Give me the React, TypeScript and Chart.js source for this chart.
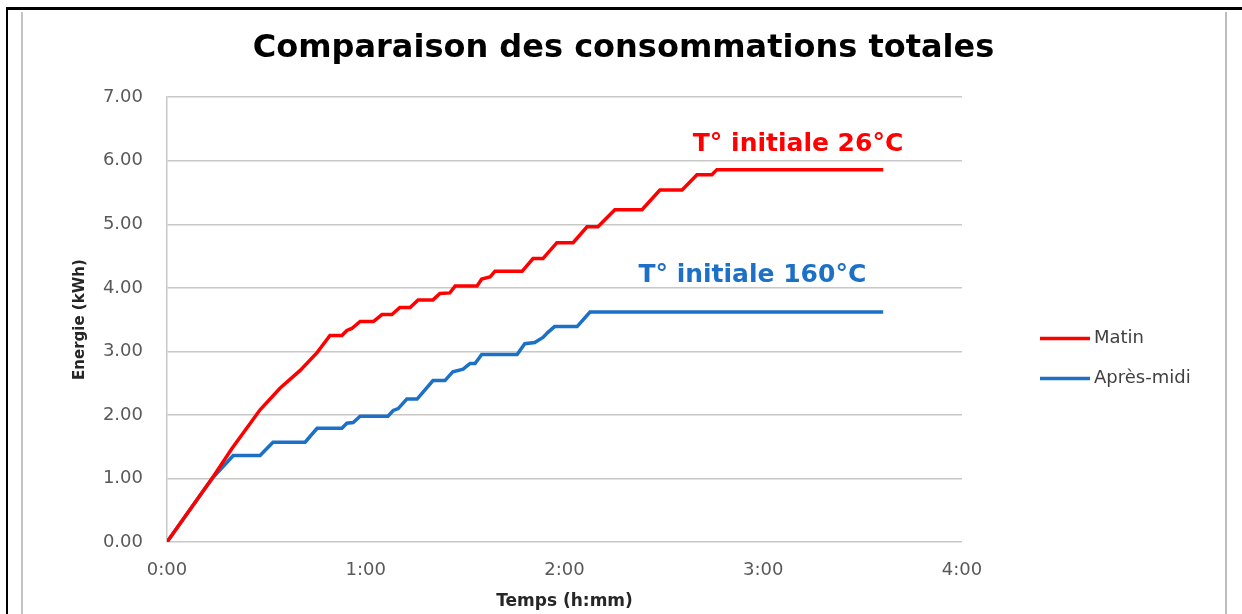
import React, { useEffect, useRef } from "react";
import { Chart, registerables } from "chart.js";

Chart.register(...registerables);

// ---- Data (time in minutes, energy in kWh) ----
const seriesNames = ["Matin", "Après-midi"];
const seriesColors = ["#FF0000", "#1C70C6"];

const matinMinutes = [0, 13.6, 19.6, 28.1, 34.1, 40.2, 45.3, 49.2, 52.8, 54.3, 55.8, 58.3, 62.3, 64.9, 67.9, 70.3, 73.4, 75.8, 80.3, 82.4, 85.4, 87, 93.6, 95, 97.5, 99, 107.2, 110.5, 113.5, 117.7, 122.6, 126.8, 130.1, 132.2, 135.2, 143.4, 148.8, 155.5, 160, 164.5, 166, 216.2];
const matinKWh = [0, 1.0, 1.47, 2.08, 2.42, 2.7, 2.98, 3.25, 3.25, 3.33, 3.36, 3.47, 3.47, 3.58, 3.58, 3.69, 3.69, 3.81, 3.81, 3.91, 3.92, 4.03, 4.03, 4.14, 4.17, 4.26, 4.26, 4.46, 4.46, 4.71, 4.71, 4.96, 4.96, 5.07, 5.23, 5.23, 5.54, 5.54, 5.78, 5.78, 5.86, 5.86];

const apresMidiMinutes = [0, 13.6, 20, 28.1, 32, 41.7, 45.3, 52.8, 54.3, 56.2, 58.3, 66.7, 68.3, 69.8, 72.4, 75.5, 80.3, 83.9, 86.3, 89.4, 91.5, 93, 95, 105.7, 108, 111, 113.5, 115, 117, 123.8, 127.7, 216.2];
const apresMidiKWh = [0, 1.0, 1.36, 1.36, 1.57, 1.57, 1.79, 1.79, 1.87, 1.88, 1.98, 1.98, 2.07, 2.1, 2.25, 2.25, 2.54, 2.54, 2.68, 2.72, 2.81, 2.81, 2.95, 2.95, 3.12, 3.14, 3.22, 3.3, 3.39, 3.39, 3.62, 3.62];

const xTickMinutes = [0, 60, 120, 180, 240];
const xTickLabels = ["0:00", "1:00", "2:00", "3:00", "4:00"];

const chartTitle = "Comparaison des consommations totales";
const xAxisTitle = "Temps (h:mm)";
const yAxisTitle = "Energie (kWh)";

const annotationTexts = ["T° initiale 26°C", "T° initiale 160°C"];

// ---- Layout / style settings ----
const FONT = "'DejaVu Sans', 'Open Sans', sans-serif";
const annotationAnchors = [
  { t: 190.5, v: 6.25 },
  { t: 176.7, v: 4.19 },
];

const overlayPlugin = {
  id: "overlay",
  afterDatasetsDraw(chart: any) {
    const { ctx, chartArea, scales } = chart;
    ctx.save();
    // annotations
    ctx.font = `bold 25px ${FONT}`;
    ctx.textAlign = "center";
    ctx.textBaseline = "middle";
    annotationTexts.forEach((txt, i) => {
      ctx.fillStyle = seriesColors[i];
      ctx.fillText(
        txt,
        scales.x.getPixelForValue(annotationAnchors[i].t),
        scales.y.getPixelForValue(annotationAnchors[i].v)
      );
    });
    // legend
    const lx = chartArea.right + 78;
    const ly = (chartArea.top + chartArea.bottom) / 2 + 19;
    chart.data.datasets.forEach((ds: any, i: number) => {
      const y = ly + i * 40;
      ctx.strokeStyle = ds.borderColor;
      ctx.lineWidth = 3.5;
      ctx.beginPath();
      ctx.moveTo(lx, y);
      ctx.lineTo(lx + 50, y);
      ctx.stroke();
      ctx.font = `18px ${FONT}`;
      ctx.fillStyle = "#404040";
      ctx.textAlign = "left";
      ctx.textBaseline = "middle";
      ctx.fillText(ds.label, lx + 54, y);
    });
    ctx.restore();
  },
};

export default function App() {
  const ref = useRef<HTMLCanvasElement>(null);

  useEffect(() => {
    const series = [
      { t: matinMinutes, v: matinKWh },
      { t: apresMidiMinutes, v: apresMidiKWh },
    ];
    const chart = new Chart(ref.current as HTMLCanvasElement, {
      type: "line",
      data: {
        datasets: series.map((s, i) => ({
          label: seriesNames[i],
          data: s.t.map((t, j) => ({ x: t, y: s.v[j] })),
          borderColor: seriesColors[i],
          backgroundColor: seriesColors[i],
          borderWidth: 3.5,
          pointRadius: 0,
          tension: 0,
          fill: false,
        })),
      },
      options: {
        responsive: false,
        animation: false,
        devicePixelRatio: 1,
        layout: { padding: { left: 5, right: 0, top: 0, bottom: 0 } },
        plugins: {
          legend: { display: false },
          tooltip: { enabled: false },
          title: {
            display: true,
            text: chartTitle,
            color: "#000000",
            font: { family: FONT, size: 32, weight: "bold" },
            padding: { top: 29.4, bottom: 29.4 },
          },
        },
        scales: {
          x: {
            type: "linear",
            min: 0,
            max: 240,
            afterBuildTicks: (s: any) => {
              s.ticks = xTickMinutes.map((v) => ({ value: v }));
            },
            ticks: {
              autoSkip: false,
              maxRotation: 0,
              padding: 18,
              color: "#595959",
              font: { family: FONT, size: 18 },
              callback: (v: any) => xTickLabels[xTickMinutes.indexOf(Number(v))],
            },
            grid: { display: false, drawTicks: false },
            border: { display: false },
            title: {
              display: true,
              text: xAxisTitle,
              color: "#262626",
              font: { family: FONT, size: 17, weight: "bold" },
              padding: { top: 0, bottom: 2.5 },
            },
            afterFit: (s: any) => {
              s.height = 72;
            },
          },
          y: {
            type: "linear",
            min: 0,
            max: 7,
            ticks: {
              stepSize: 1,
              padding: 24,
              color: "#595959",
              font: { family: FONT, size: 18 },
              callback: (v: any) => Number(v).toFixed(2),
            },
            grid: { color: "#C8C8C8", lineWidth: 1.5, drawTicks: false },
            border: { display: true, color: "#C8C8C8", width: 1.5 },
            title: {
              display: true,
              text: yAxisTitle,
              color: "#262626",
              font: { family: FONT, size: 15, weight: "bold" },
              padding: { top: 66, bottom: 0 },
            },
            afterFit: (s: any) => {
              s.width = 162;
            },
          },
          yRight: {
            type: "linear",
            position: "right",
            display: true,
            grid: { display: false, drawTicks: false },
            border: { display: false },
            ticks: { display: false },
            afterFit: (s: any) => {
              s.width = 280;
            },
          },
        },
      },
      plugins: [overlayPlugin],
    } as any);
    return () => chart.destroy();
  }, []);

  return (
    <div
      style={{
        position: "fixed",
        left: 0,
        top: 0,
        width: 1242,
        height: 614,
        background: "#ffffff",
        overflow: "hidden",
      }}
    >
      <canvas ref={ref} width={1242} height={614} style={{ display: "block" }} />
      <div style={{ position: "absolute", left: 6, top: 7, width: 1236, height: 3, background: "#000" }} />
      <div style={{ position: "absolute", left: 6, top: 7, width: 2, height: 607, background: "#000" }} />
      <div style={{ position: "absolute", left: 21, top: 12, width: 2, height: 602, background: "#C4C4C4" }} />
      <div style={{ position: "absolute", left: 1225, top: 12, width: 2, height: 602, background: "#BDBDBD" }} />
    </div>
  );
}
